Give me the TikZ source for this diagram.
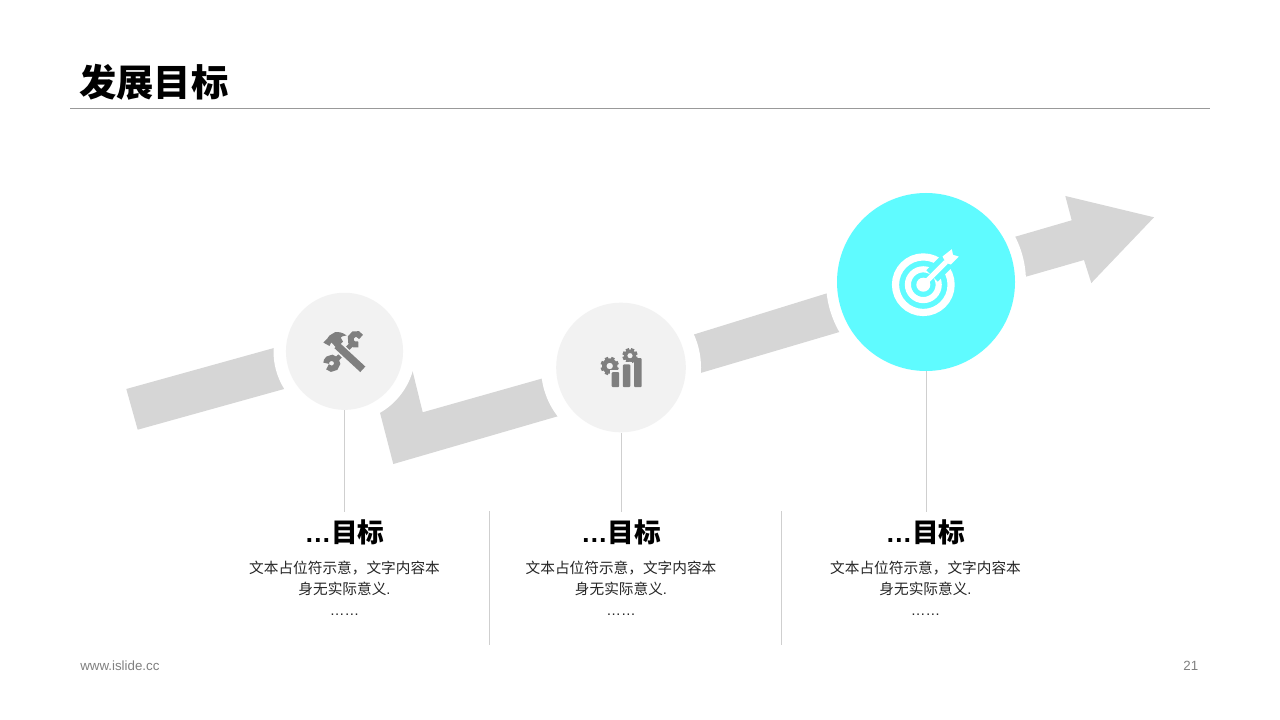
\documentclass[tikz,border=0pt]{standalone}
\usepackage{fontspec}
\setmainfont{Liberation Sans}
\newfontfamily\cjk{Noto Sans CJK SC}
\definecolor{barcol}{HTML}{D6D6D6}
\definecolor{softcol}{HTML}{F2F2F2}
\definecolor{iconcol}{HTML}{7F7F7F}
\definecolor{cyancol}{HTML}{5FFBFF}
\definecolor{linecol}{HTML}{CFCFCF}
\tikzset{
  barshape/.style={fill=barcol,draw=none},
  ring/.style={circle,fill=white,draw=none,inner sep=0pt},
  disc/.style={circle,draw=none,inner sep=0pt,fill=softcol},
  stem/.style={draw=linecol,line width=0.75pt},
  heading/.style={font=\fontsize{20}{24}\selectfont\bfseries,text=black,inner sep=0pt},
  bodytext/.style={font=\fontsize{11}{16}\selectfont,text=black!85,align=center,inner sep=0pt},
  tooth/.style={draw=iconcol,line width=2.6pt},
}
\newcommand{\gearat}[3]{% x y radius
  \foreach \a in {22.5,67.5,...,337.5}{
    \draw[tooth] ({#1+(#3-3.4)*cos(\a)},{#2+(#3-3.4)*sin(\a)}) -- ({#1+#3*cos(\a)},{#2+#3*sin(\a)});
  }
  \fill[iconcol,even odd rule] (#1,#2) circle[radius=#3-1.5] (#1,#2) circle[radius=#3*0.36];
}
\begin{document}
\begin{tikzpicture}[x=0.75pt,y=-0.75pt]
\useasboundingbox (0,0) rectangle (1280,720);
\fill[white] (0,0) rectangle (1280,720);
% title
\node[anchor=west,inner sep=0pt,font=\fontsize{28}{32}\selectfont\bfseries\cjk] (title) at (79,82) {发展目标};
\coordinate (ruleL) at (70,108.5);
\coordinate (ruleR) at (1210,108.5);
\draw[draw=black!40,line width=0.75pt] (ruleL) -- (ruleR);
% bars
\path[barshape] (126.3,389) -- (137.7,429.7) -- (320,379) -- (310,338) -- cycle;
\path[barshape] (370,374) -- (380,412.7) -- (393.3,464) -- (600,404) -- (590,365) -- (422.7,412.3) -- (412.7,371.7) -- (410,361) -- cycle;
\path[barshape] (660,345) -- (670,382) -- (880,320) -- (870,280) -- cycle;
\path[barshape] (980,247) -- (990,287) -- (1084,260) -- (1091.3,283) -- (1154,217.3) -- (1065.3,196) -- (1071.7,220.3) -- cycle;
% white gaps
\node[ring,minimum size=106.5pt] (r1) at (344.5,351.3) {};
\node[ring,minimum size=120pt] (r2) at (621,367.5) {};
\node[ring,minimum size=150pt] (r3) at (926,282) {};
% discs
\node[disc,minimum size=87.8pt] (c1) at (344.5,351.3) {};
\node[disc,minimum size=97.2pt] (c2) at (621,367.5) {};
\node[disc,minimum size=133.5pt,fill=cyancol] (c3) at (926,282) {};
% stems
\coordinate (e1) at (c1.south |- 0,512);
\coordinate (e2) at (c2.south |- 0,512);
\coordinate (e3) at (c3.south |- 0,512);
\draw[stem] (c1.south) -- (e1);
\draw[stem] (c2.south) -- (e2);
\draw[stem] (c3.south) -- (e3);
% dividers
\coordinate (d1a) at (489.5,511); \coordinate (d1b) at (489.5,645);
\coordinate (d2a) at (781,511); \coordinate (d2b) at (781,645);
\draw[stem] (d1a) -- (d1b);
\draw[stem] (d2a) -- (d2b);
% tools icon
\draw[iconcol,line width=3.6pt] (352,344) -- (336,360);
\draw[iconcol,line width=4.4pt] (361,337) arc[start angle=-25,end angle=-295,radius=5.5];
\draw[iconcol,line width=4.4pt] (327.5,366.8) arc[start angle=140,end angle=-180,radius=5.5];
\draw[softcol,line width=8pt] (338,346.5) -- (363,370);
\draw[iconcol,line width=5.6pt] (337,345.5) -- (362.8,369.3);
\fill[iconcol] (329.5,335.5) -- (335,332.2) .. controls (339,331.6) and (343,332.6) .. (346.6,335.5)
  .. controls (343.5,335.8) and (341.5,336.3) .. (340.7,337.6) -- (343,341.6) -- (336.7,348) -- (331.2,342.4) -- (329.5,346) -- (323.4,342.6) -- (327.4,338.4) -- cycle;
% chart icon
\gearat{609.7}{366}{9.2}
\gearat{630}{355.7}{7.6}
\fill[softcol] (609.6,370.2) rectangle (621,388);
\fill[softcol] (620.6,362.4) rectangle (632.3,388);
\fill[iconcol,rounded corners=0.8pt] (611.7,372) rectangle (619.2,387.2);
\fill[iconcol,rounded corners=0.8pt] (622.8,364.4) rectangle (630.3,387.2);
\fill[iconcol,rounded corners=0.8pt] (634,358) rectangle (641.7,387.2);
% target icon
\draw[white,line width=5.4pt] (923.3,284.7) circle[radius=27.8];
\draw[white,line width=4.6pt] (923.3,284.7) circle[radius=15.4];
\draw[cyancol,line width=12pt] (932,276) -- (950,258);
\fill[white] (923.3,284.7) circle[radius=7];
\draw[white,line width=3.8pt] (923.3,284.7) -- (946,262);
\fill[white] (942.5,256.5) -- (951.8,249.2) -- (953,254.8) -- (958.8,256.6) -- (950.8,264.5) -- (946,263) -- cycle;
% texts
\node[heading] (h1) at (344.5,532) {…{\cjk 目标}};
\node[bodytext] (b1) at (344.5,588.2) {{\cjk 文本占位符示意，文字内容本}\\{\cjk 身无实际意义}.\\……};
\node[heading] (h2) at (621,532) {…{\cjk 目标}};
\node[bodytext] (b2) at (621,588.2) {{\cjk 文本占位符示意，文字内容本}\\{\cjk 身无实际意义}.\\……};
\node[heading] (h3) at (925.5,532) {…{\cjk 目标}};
\node[bodytext] (b3) at (925.5,588.2) {{\cjk 文本占位符示意，文字内容本}\\{\cjk 身无实际意义}.\\……};
% footer
\node[anchor=west,inner sep=0pt,font=\fontsize{10}{12}\selectfont,text=black!50] (web) at (80,666) {www.islide.cc};
\node[anchor=east,inner sep=0pt,font=\fontsize{10}{12}\selectfont,text=black!50] (page) at (1198.5,666) {21};
\end{tikzpicture}
\end{document}
